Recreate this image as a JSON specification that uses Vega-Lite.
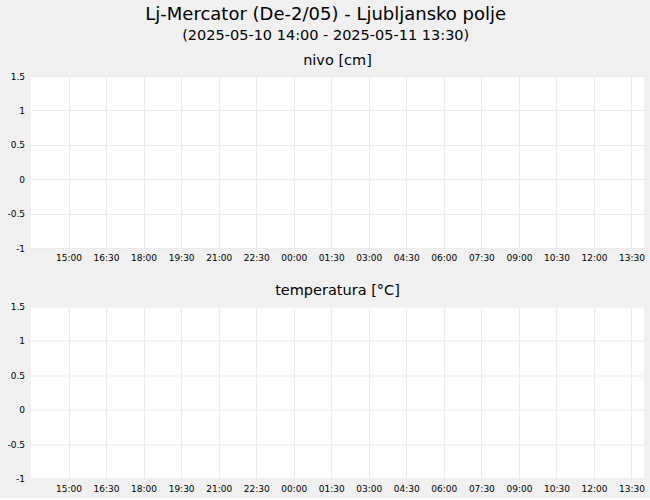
{
  "$schema": "https://vega.github.io/schema/vega-lite/v6.json",
  "background": "#f0f0f0",
  "padding": {"left": 6, "top": 6, "right": 6, "bottom": 5},
  "title": {
    "text": "Lj-Mercator (De-2/05) - Ljubljansko polje",
    "subtitle": "(2025-05-10 14:00 - 2025-05-11 13:30)",
    "fontSize": 18,
    "subtitleFontSize": 14.5,
    "subtitleFont": "DejaVu Sans",
    "subtitleColor": "#000",
    "subtitlePadding": 5,
    "anchor": "middle",
    "offset": 10
  },
  "datasets": {
    "meritve": [
      {"cas": "2025-05-10T14:00:00Z", "nivo": null, "temperatura": null},
      {"cas": "2025-05-11T13:30:00Z", "nivo": null, "temperatura": null}
    ]
  },
  "spacing": 19.5,
  "vconcat": [
    {
      "title": {"text": "nivo [cm]", "offset": 4},
      "width": 613,
      "height": 172,
      "data": {"name": "meritve"},
      "mark": {"type": "line", "color": "#1f77b4"},
      "encoding": {
        "x": {
          "field": "cas", "type": "temporal", "title": null,
          "scale": {"type": "utc", "nice": false,
            "domain": [
              {"year": 2025, "month": 5, "date": 10, "hours": 13, "minutes": 30, "utc": true},
              {"year": 2025, "month": 5, "date": 11, "hours": 14, "minutes": 0, "utc": true}
            ]},
          "axis": {
            "labelExpr": "utcFormat(datum.value, '%H:%M')",
            "values": [
              {"year": 2025, "month": 5, "date": 10, "hours": 15, "minutes": 0, "utc": true},
              {"year": 2025, "month": 5, "date": 10, "hours": 16, "minutes": 30, "utc": true},
              {"year": 2025, "month": 5, "date": 10, "hours": 18, "minutes": 0, "utc": true},
              {"year": 2025, "month": 5, "date": 10, "hours": 19, "minutes": 30, "utc": true},
              {"year": 2025, "month": 5, "date": 10, "hours": 21, "minutes": 0, "utc": true},
              {"year": 2025, "month": 5, "date": 10, "hours": 22, "minutes": 30, "utc": true},
              {"year": 2025, "month": 5, "date": 11, "hours": 0, "minutes": 0, "utc": true},
              {"year": 2025, "month": 5, "date": 11, "hours": 1, "minutes": 30, "utc": true},
              {"year": 2025, "month": 5, "date": 11, "hours": 3, "minutes": 0, "utc": true},
              {"year": 2025, "month": 5, "date": 11, "hours": 4, "minutes": 30, "utc": true},
              {"year": 2025, "month": 5, "date": 11, "hours": 6, "minutes": 0, "utc": true},
              {"year": 2025, "month": 5, "date": 11, "hours": 7, "minutes": 30, "utc": true},
              {"year": 2025, "month": 5, "date": 11, "hours": 9, "minutes": 0, "utc": true},
              {"year": 2025, "month": 5, "date": 11, "hours": 10, "minutes": 30, "utc": true},
              {"year": 2025, "month": 5, "date": 11, "hours": 12, "minutes": 0, "utc": true},
              {"year": 2025, "month": 5, "date": 11, "hours": 13, "minutes": 30, "utc": true}
            ]
          }
        },
        "y": {
          "field": "nivo", "type": "quantitative", "title": null,
          "scale": {"domain": [-1, 1.5], "nice": false, "zero": false},
          "axis": {"values": [-1, -0.5, 0, 0.5, 1, 1.5], "labelExpr": "'' + datum.value"}
        }
      }
    },
    {
      "title": {"text": "temperatura [°C]", "offset": 4},
      "width": 613,
      "height": 172,
      "data": {"name": "meritve"},
      "mark": {"type": "line", "color": "#d62728"},
      "encoding": {
        "x": {
          "field": "cas", "type": "temporal", "title": null,
          "scale": {"type": "utc", "nice": false,
            "domain": [
              {"year": 2025, "month": 5, "date": 10, "hours": 13, "minutes": 30, "utc": true},
              {"year": 2025, "month": 5, "date": 11, "hours": 14, "minutes": 0, "utc": true}
            ]},
          "axis": {
            "labelExpr": "utcFormat(datum.value, '%H:%M')",
            "values": [
              {"year": 2025, "month": 5, "date": 10, "hours": 15, "minutes": 0, "utc": true},
              {"year": 2025, "month": 5, "date": 10, "hours": 16, "minutes": 30, "utc": true},
              {"year": 2025, "month": 5, "date": 10, "hours": 18, "minutes": 0, "utc": true},
              {"year": 2025, "month": 5, "date": 10, "hours": 19, "minutes": 30, "utc": true},
              {"year": 2025, "month": 5, "date": 10, "hours": 21, "minutes": 0, "utc": true},
              {"year": 2025, "month": 5, "date": 10, "hours": 22, "minutes": 30, "utc": true},
              {"year": 2025, "month": 5, "date": 11, "hours": 0, "minutes": 0, "utc": true},
              {"year": 2025, "month": 5, "date": 11, "hours": 1, "minutes": 30, "utc": true},
              {"year": 2025, "month": 5, "date": 11, "hours": 3, "minutes": 0, "utc": true},
              {"year": 2025, "month": 5, "date": 11, "hours": 4, "minutes": 30, "utc": true},
              {"year": 2025, "month": 5, "date": 11, "hours": 6, "minutes": 0, "utc": true},
              {"year": 2025, "month": 5, "date": 11, "hours": 7, "minutes": 30, "utc": true},
              {"year": 2025, "month": 5, "date": 11, "hours": 9, "minutes": 0, "utc": true},
              {"year": 2025, "month": 5, "date": 11, "hours": 10, "minutes": 30, "utc": true},
              {"year": 2025, "month": 5, "date": 11, "hours": 12, "minutes": 0, "utc": true},
              {"year": 2025, "month": 5, "date": 11, "hours": 13, "minutes": 30, "utc": true}
            ]
          }
        },
        "y": {
          "field": "temperatura", "type": "quantitative", "title": null,
          "scale": {"domain": [-1, 1.5], "nice": false, "zero": false},
          "axis": {"values": [-1, -0.5, 0, 0.5, 1, 1.5], "labelExpr": "'' + datum.value"}
        }
      }
    }
  ],
  "config": {
    "font": "DejaVu Sans",
    "view": {"fill": "white", "stroke": null},
    "axis": {
      "domain": false,
      "ticks": false,
      "gridColor": "#ebebeb",
      "gridWidth": 1,
      "labelFont": "DejaVu Sans",
      "labelFontSize": 9,
      "labelColor": "#000",
      "labelFlush": false
    },
    "axisX": {"labelPadding": 5.5},
    "axisY": {"labelPadding": 6.5},
    "title": {
      "font": "DejaVu Sans",
      "fontWeight": "normal",
      "fontSize": 14.5,
      "color": "#000",
      "anchor": "middle"
    }
  }
}
